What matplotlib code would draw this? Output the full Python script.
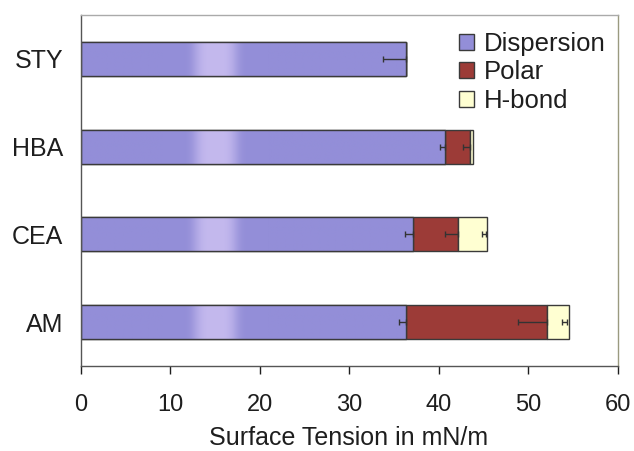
import matplotlib
matplotlib.use("Agg")
import matplotlib.pyplot as plt
import numpy as np
from matplotlib.patches import Patch

categories = ["STY", "HBA", "CEA", "AM"]
dispersion = [36.3, 40.7, 37.1, 36.3]
polar = [0.0, 2.8, 5.0, 15.8]
hbond = [0.0, 0.3, 3.3, 2.4]
disp_err = [2.5, 0.6, 0.9, 0.8]
polar_err = [0.0, 0.8, 1.4, 3.3]
hbond_err = [0.0, 0.0, 0.4, 0.6]
xticks = [0, 10, 20, 30, 40, 50, 60]

plt.rcParams['font.family'] = ['Liberation Sans', 'DejaVu Sans']

fig = plt.figure(figsize=(6.34, 4.51), dpi=100)
ax = fig.add_axes([81/634, 1-366/451, (617.7-81)/634, (366-15)/451])

y = np.arange(len(categories))
h = 0.39
c_disp = "#938ed8"
c_pol = "#9c3b37"
c_hb = "#ffffd2"
edge = "#3a3a3a"
txt = "#1e1e1e"

disp = np.array(dispersion)
pol = np.array(polar)
hb = np.array(hbond)

bars_d = ax.barh(y, disp, height=h, color=c_disp, edgecolor=edge, linewidth=1.0, label="Dispersion", zorder=2)
ax.barh(y, pol, left=disp, height=h, color=c_pol, edgecolor=edge, linewidth=1.0, label="Polar", zorder=2)
ax.barh(y, hb, left=disp + pol, height=h, color=c_hb, edgecolor=edge, linewidth=1.0, label="H-bond", zorder=2)

# lighter scan band inside the dispersion bars
grad_x = np.linspace(0, 60, 600)
band = np.exp(-((grad_x - 15.0) / 2.4) ** 4)
base = np.array(matplotlib.colors.to_rgb(c_disp))
light = np.array(matplotlib.colors.to_rgb("#c4b9ee"))
img = base[None, :] * (1 - band[:, None]) + light[None, :] * band[:, None]
img = img[None, :, :]
for b in bars_d:
    im = ax.imshow(img, extent=[0, 60, b.get_y(), b.get_y() + b.get_height()],
                   aspect='auto', zorder=2.1, interpolation='bilinear')
    im.set_clip_path(b)
    ax.add_patch(matplotlib.patches.Rectangle((b.get_x(), b.get_y()), b.get_width(), b.get_height(),
                                              fill=False, edgecolor=edge, linewidth=1.0, zorder=2.2))

ekw = dict(fmt="none", ecolor="#333333", elinewidth=1.0, capsize=2.5, capthick=1.0, zorder=3)
z = np.zeros(len(categories))
ax.errorbar(disp, y, xerr=[np.array(disp_err), z], **ekw)
m = pol > 0
ax.errorbar((disp + pol)[m], y[m], xerr=[np.array(polar_err)[m], z[m]], **ekw)
m2 = np.array(hbond_err) > 0
ax.errorbar((disp + pol + hb)[m2] - 0.15, y[m2], xerr=[np.array(hbond_err)[m2], z[m2]], **ekw)

ax.set_xlim(0, 60)
ax.set_ylim(3.5, -0.5)
ax.set_xticks(xticks)
ax.set_yticks(y)
ax.set_yticklabels(categories)
ax.tick_params(axis='x', direction='out', length=6, width=1, pad=14, labelsize=17, colors=txt)
ax.tick_params(axis='y', length=0, pad=13, labelsize=18, colors=txt)
for s in ax.spines.values():
    s.set_color("#555555")
    s.set_linewidth(1.0)
ax.spines['right'].set_color("#9a9a80")
ax.spines['top'].set_color("#aaaaaa")
fig.text(349/634, 1-445/451, "Surface Tension in mN/m", fontsize=18, color=txt,
         ha='center', va='baseline')

handles = [Patch(facecolor=c_disp, edgecolor=edge, label="Dispersion"),
           Patch(facecolor=c_pol, edgecolor=edge, label="Polar"),
           Patch(facecolor=c_hb, edgecolor=edge, label="H-bond")]
leg = fig.legend(handles=handles, loc="upper left", frameon=False, fontsize=18.5,
                 handlelength=0.6, handleheight=0.6, handletextpad=0.35, labelspacing=0.17,
                 borderaxespad=0.0, borderpad=0.0, bbox_to_anchor=(459/634, 1-32/451))
for t in leg.get_texts():
    t.set_color(txt)

fig.savefig("out.png", dpi=100)
